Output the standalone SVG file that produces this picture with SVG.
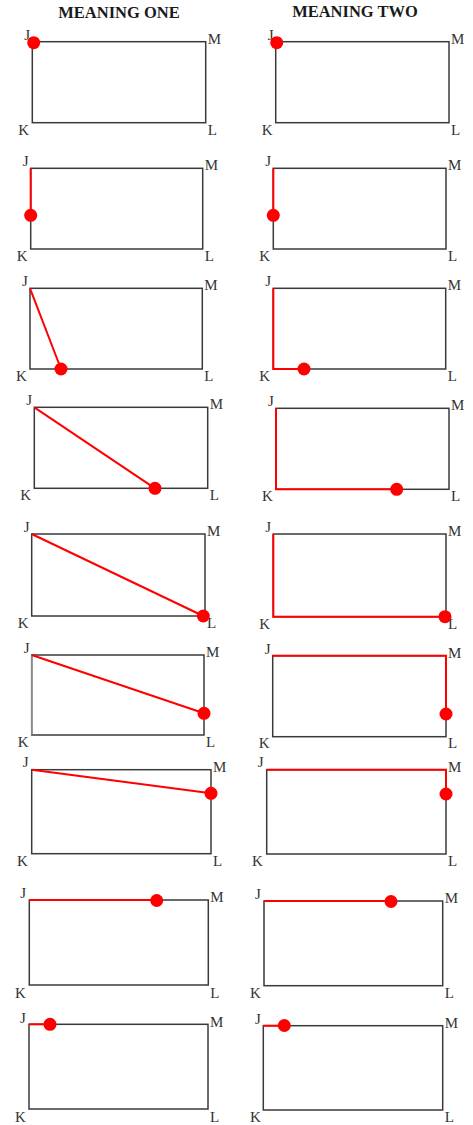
<svg xmlns="http://www.w3.org/2000/svg" width="473" height="1125" viewBox="0 0 473 1125">
<style>
.bg{fill:#fff}
.title{font-family:"Liberation Serif","Times New Roman",serif;font-weight:bold;font-size:16.5px;fill:#1a1a1a;text-anchor:middle}
.lbl{font-family:"Liberation Serif","Times New Roman",serif;font-size:15px;fill:#333}
.box{fill:none;stroke:#3a3a3a;stroke-width:1.5}
.path{fill:none;stroke:#ff0000;stroke-width:2;stroke-linejoin:miter}
.dot{fill:#ff0000}
</style>
<rect class="bg" x="0" y="0" width="473" height="1125"/>
<g id="titles">
<text class="title" x="119" y="18">MEANING ONE</text>
<text class="title" x="355" y="17">MEANING TWO</text>
</g>

<g id="p1-one">
<rect class="box" x="32.3" y="41.7" width="173.4" height="81"/>
<text class="lbl" x="24.3" y="39.7">J</text><text class="lbl" x="207.7" y="43.7">M</text>
<text class="lbl" x="18.3" y="134.7">K</text><text class="lbl" x="207.7" y="134.7">L</text>
<circle class="dot" cx="33.7" cy="42.7" r="6.5"/>
</g>
<g id="p1-two">
<rect class="box" x="275.7" y="41.7" width="173.3" height="81"/>
<text class="lbl" x="267.7" y="39.7">J</text><text class="lbl" x="451" y="43.7">M</text>
<text class="lbl" x="261.7" y="134.7">K</text><text class="lbl" x="451" y="134.7">L</text>
<circle class="dot" cx="276.7" cy="42.7" r="6.5"/>
</g>

<g id="p2-one">
<rect class="box" x="30.7" y="168.3" width="172" height="80.7"/>
<text class="lbl" x="22.7" y="166.3">J</text><text class="lbl" x="204.7" y="170.3">M</text>
<text class="lbl" x="16.7" y="261">K</text><text class="lbl" x="204.7" y="261">L</text>
<path class="path" d="M30.7 168.3 V215.3"/>
<circle class="dot" cx="30.7" cy="215.3" r="6.5"/>
</g>
<g id="p2-two">
<rect class="box" x="273.3" y="168.3" width="172.7" height="80.7"/>
<text class="lbl" x="265.3" y="166.3">J</text><text class="lbl" x="448" y="170.3">M</text>
<text class="lbl" x="259.3" y="261">K</text><text class="lbl" x="448" y="261">L</text>
<path class="path" d="M273.3 168.3 V215.3"/>
<circle class="dot" cx="273.3" cy="215.3" r="6.5"/>
</g>

<g id="p3-one">
<rect class="box" x="30" y="288.3" width="172.3" height="80.7"/>
<text class="lbl" x="22" y="286.3">J</text><text class="lbl" x="204.3" y="290.3">M</text>
<text class="lbl" x="16" y="381">K</text><text class="lbl" x="204.3" y="381">L</text>
<path class="path" d="M30 288.3 L61 369"/>
<circle class="dot" cx="61" cy="369" r="6.5"/>
</g>
<g id="p3-two">
<rect class="box" x="273.3" y="288.3" width="172.4" height="80.7"/>
<text class="lbl" x="265.3" y="286.3">J</text><text class="lbl" x="447.7" y="290.3">M</text>
<text class="lbl" x="259.3" y="381">K</text><text class="lbl" x="447.7" y="381">L</text>
<path class="path" d="M273.3 288.3 V369 H304"/>
<circle class="dot" cx="304" cy="369" r="6.5"/>
</g>

<g id="p4-one">
<rect class="box" x="34.3" y="407.3" width="173.4" height="81"/>
<text class="lbl" x="26.3" y="405.3">J</text><text class="lbl" x="209.7" y="409.3">M</text>
<text class="lbl" x="20.3" y="500.3">K</text><text class="lbl" x="209.7" y="500.3">L</text>
<path class="path" d="M34.3 407.3 L155 488.3"/>
<circle class="dot" cx="155" cy="488.3" r="6.5"/>
</g>
<g id="p4-two">
<rect class="box" x="276" y="408.3" width="173" height="81"/>
<text class="lbl" x="268" y="406.3">J</text><text class="lbl" x="451" y="410.3">M</text>
<text class="lbl" x="262" y="501.3">K</text><text class="lbl" x="451" y="501.3">L</text>
<path class="path" d="M276 408.3 V489.3 H396.7"/>
<circle class="dot" cx="396.7" cy="489.3" r="6.5"/>
</g>

<g id="p5-one">
<rect class="box" x="31.7" y="534" width="173.3" height="82"/>
<text class="lbl" x="23.7" y="532">J</text><text class="lbl" x="207" y="536">M</text>
<text class="lbl" x="17.7" y="628">K</text><text class="lbl" x="207" y="628">L</text>
<path class="path" d="M31.7 534 L203.3 616"/>
<circle class="dot" cx="203.3" cy="616" r="6.5"/>
</g>
<g id="p5-two">
<rect class="box" x="273.3" y="534" width="172.7" height="82.7"/>
<text class="lbl" x="265.3" y="532">J</text><text class="lbl" x="448" y="536">M</text>
<text class="lbl" x="259.3" y="628.7">K</text><text class="lbl" x="448" y="628.7">L</text>
<path class="path" d="M273.3 534 V616.7 H445"/>
<circle class="dot" cx="445" cy="616.7" r="6.5"/>
</g>

<g id="p6-one">
<rect class="box" x="31.7" y="655" width="172.3" height="80"/>
<line x1="31.7" y1="655" x2="31.7" y2="735" stroke="#8a8a8a" stroke-width="1.5"/>
<text class="lbl" x="23.7" y="653">J</text><text class="lbl" x="206" y="657">M</text>
<text class="lbl" x="17.7" y="747">K</text><text class="lbl" x="206" y="747">L</text>
<path class="path" d="M31.7 655 L204 713.3"/>
<circle class="dot" cx="204" cy="713.3" r="6.5"/>
</g>
<g id="p6-two">
<rect class="box" x="272.7" y="655.7" width="173.3" height="81"/>
<text class="lbl" x="264.7" y="653.7">J</text><text class="lbl" x="448" y="657.7">M</text>
<text class="lbl" x="258.7" y="748">K</text><text class="lbl" x="448" y="748">L</text>
<path class="path" d="M272.7 655.7 H446 V714"/>
<circle class="dot" cx="446" cy="714" r="6.5"/>
</g>

<g id="p7-one">
<rect class="box" x="31.7" y="769.7" width="179.3" height="84"/>
<text class="lbl" x="22.7" y="767">J</text><text class="lbl" x="213" y="771.7">M</text>
<text class="lbl" x="17" y="866">K</text><text class="lbl" x="213" y="866">L</text>
<path class="path" d="M31.7 769.7 L211 793.3"/>
<circle class="dot" cx="211" cy="793.3" r="6.5"/>
</g>
<g id="p7-two">
<rect class="box" x="266.7" y="769.7" width="179.3" height="84.3"/>
<text class="lbl" x="257.7" y="767">J</text><text class="lbl" x="448" y="771.7">M</text>
<text class="lbl" x="252" y="866.3">K</text><text class="lbl" x="448" y="866.3">L</text>
<path class="path" d="M266.7 769.7 H446 V794"/>
<circle class="dot" cx="446" cy="794" r="6.5"/>
</g>

<g id="p8-one">
<rect class="box" x="29.3" y="900" width="179" height="85"/>
<text class="lbl" x="20.3" y="898">J</text><text class="lbl" x="210.3" y="902">M</text>
<text class="lbl" x="15" y="997.5">K</text><text class="lbl" x="210.3" y="997.5">L</text>
<path class="path" d="M29.3 900 H156.7"/>
<circle class="dot" cx="156.7" cy="900.5" r="6.5"/>
</g>
<g id="p8-two">
<rect class="box" x="264" y="901" width="178.7" height="84.7"/>
<text class="lbl" x="255" y="899">J</text><text class="lbl" x="444.7" y="903">M</text>
<text class="lbl" x="250" y="998">K</text><text class="lbl" x="444.7" y="998">L</text>
<path class="path" d="M264 901 H391"/>
<circle class="dot" cx="391" cy="901.5" r="6.5"/>
</g>

<g id="p9-one">
<rect class="box" x="29" y="1024.3" width="179" height="84.7"/>
<text class="lbl" x="20" y="1022.5">J</text><text class="lbl" x="210" y="1026.5">M</text>
<text class="lbl" x="15" y="1121.5">K</text><text class="lbl" x="210" y="1121.5">L</text>
<path class="path" d="M29 1024.3 H50"/>
<circle class="dot" cx="50" cy="1024.3" r="6.5"/>
</g>
<g id="p9-two">
<rect class="box" x="263.3" y="1025.7" width="179.4" height="84.3"/>
<text class="lbl" x="255" y="1023.5">J</text><text class="lbl" x="444.7" y="1027.7">M</text>
<text class="lbl" x="250" y="1122">K</text><text class="lbl" x="444.7" y="1122">L</text>
<path class="path" d="M263.3 1025.7 H284.3"/>
<circle class="dot" cx="284.3" cy="1025.5" r="6.5"/>
</g>
</svg>
